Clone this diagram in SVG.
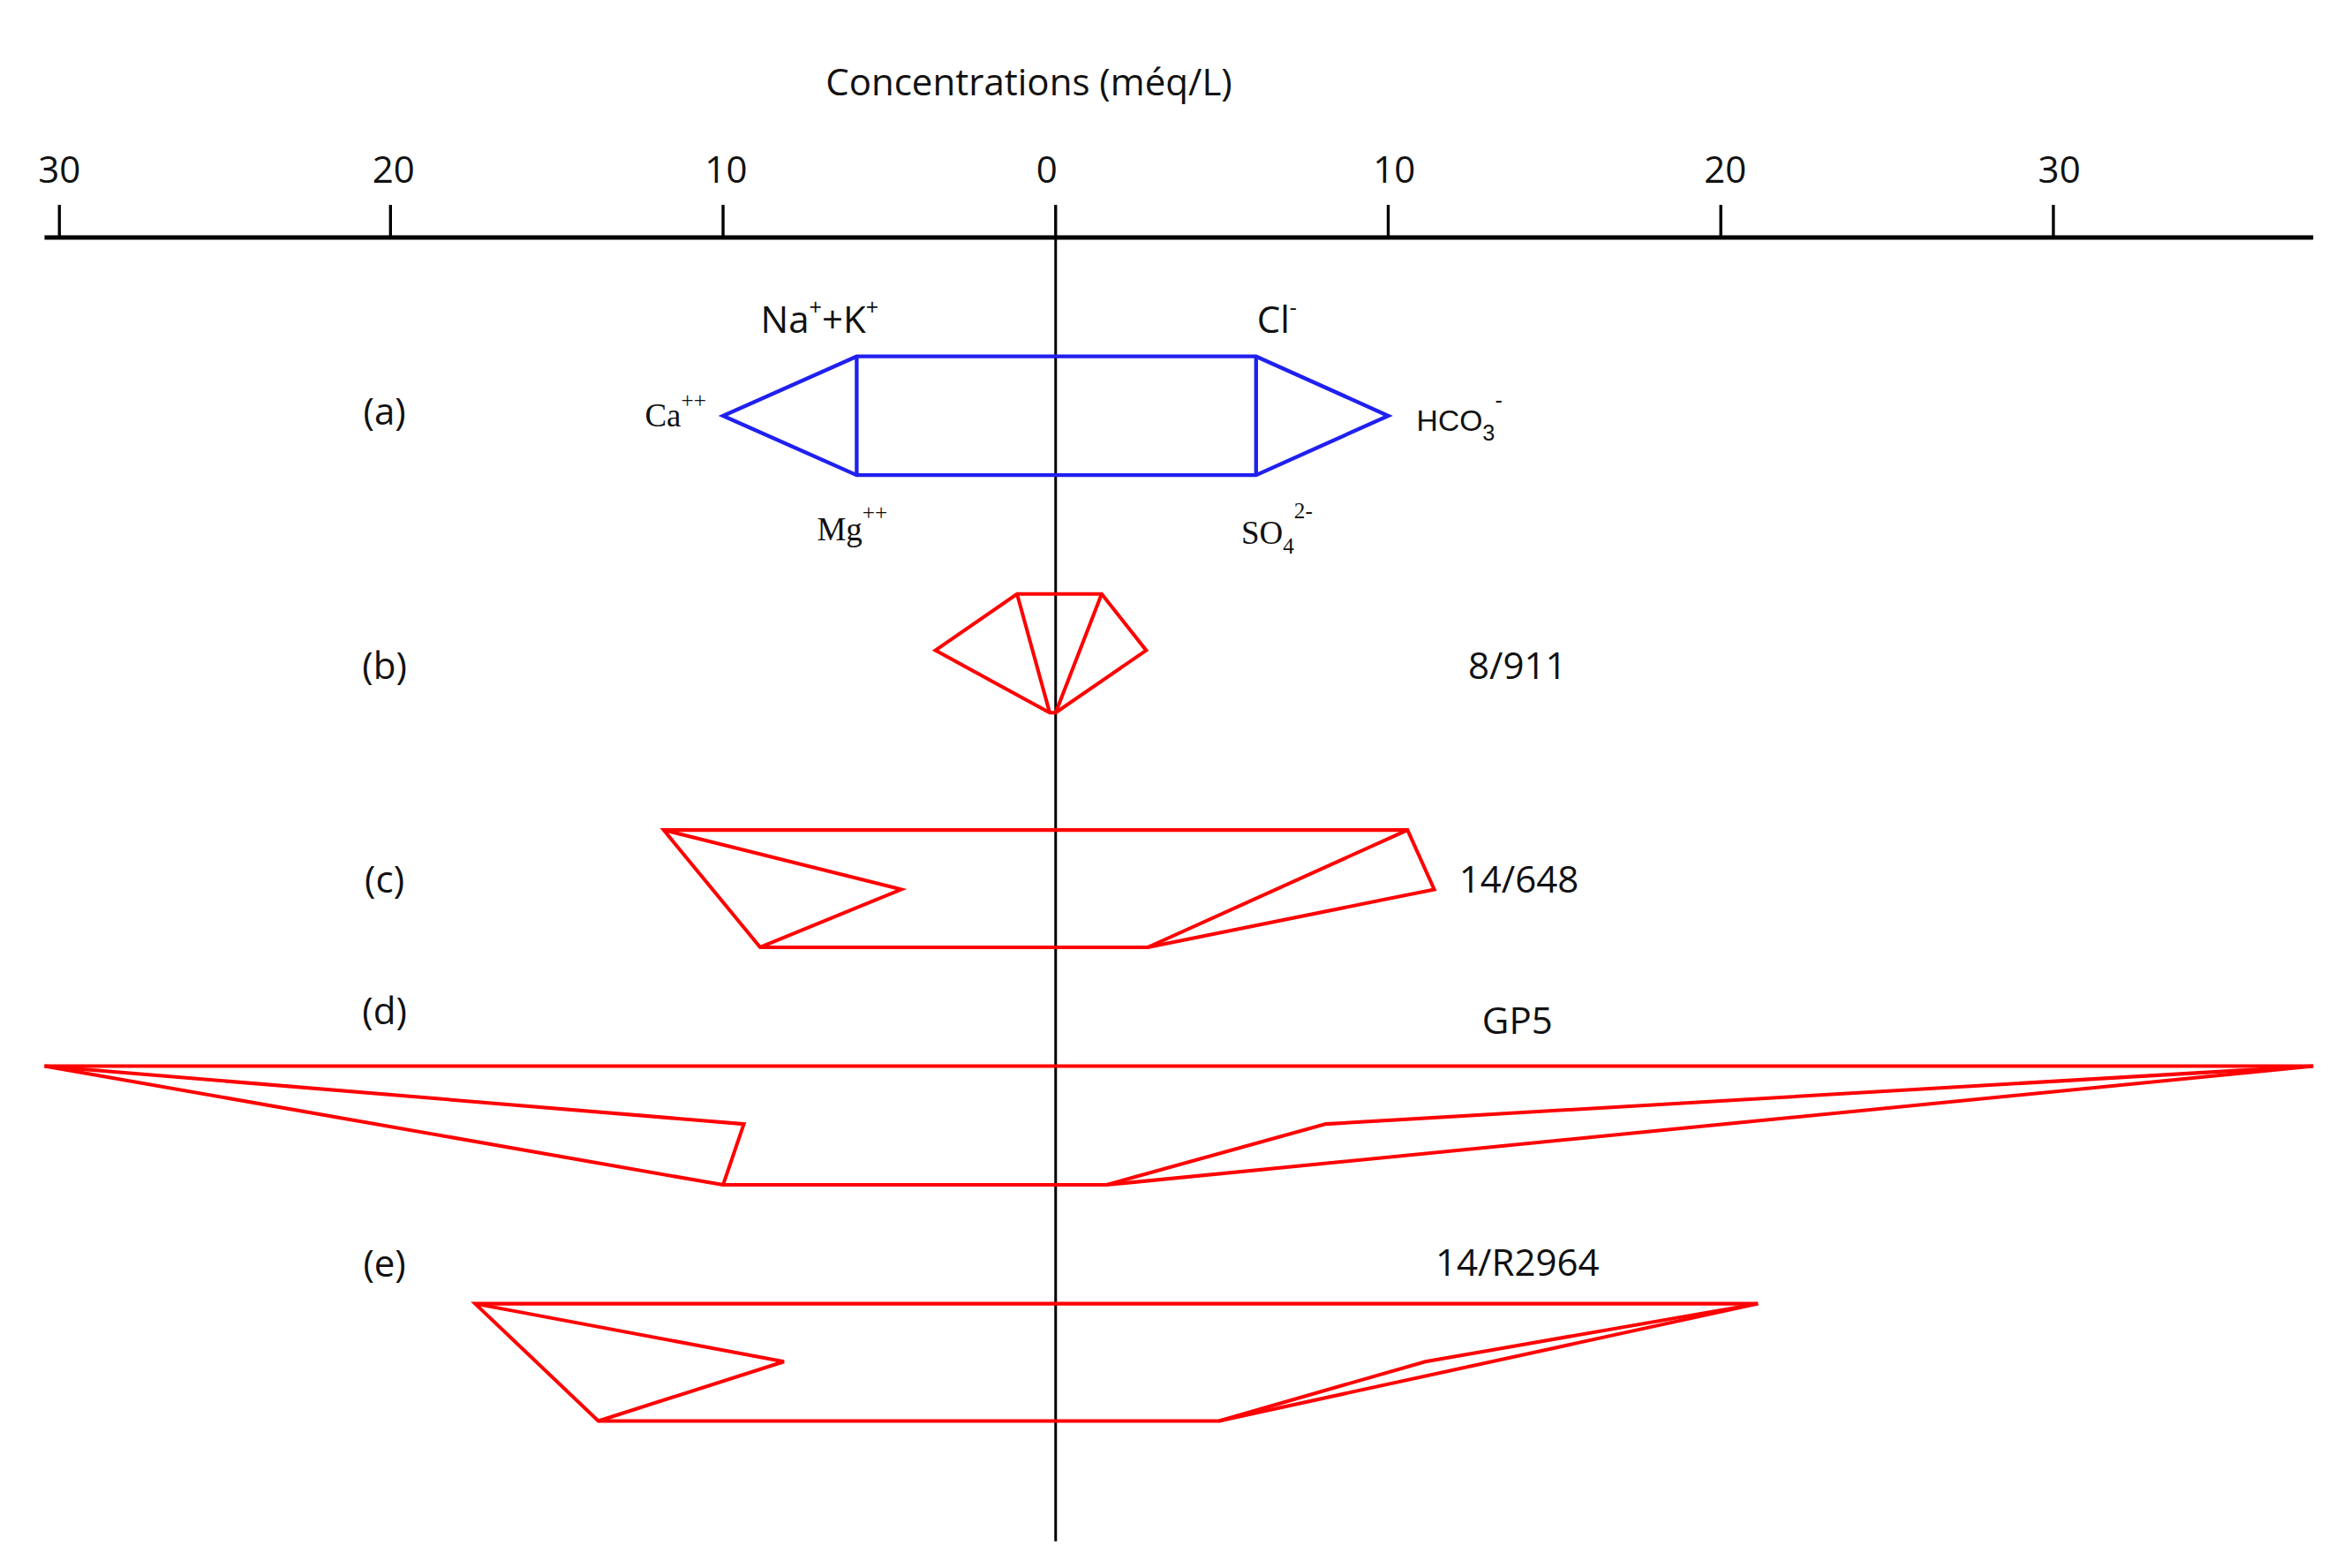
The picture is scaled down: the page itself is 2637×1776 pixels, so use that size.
<svg xmlns="http://www.w3.org/2000/svg" width="2637" height="1776" viewBox="0 0 2637 1776">
<style>
.t{font-family:"Open Sans","Liberation Sans",sans-serif;font-size:25px;fill:#111;text-anchor:middle}
.s{font-family:"Liberation Serif",serif;font-size:22px;fill:#111;text-anchor:middle}
.sup{font-size:15px}
.ax{stroke:#000;fill:none}
.r{stroke:#f00;stroke-width:2.4;fill:none;stroke-linejoin:miter}
.b{stroke:#2020f0;stroke-width:2.6;fill:none}
</style>
<rect width="2637" height="1776" fill="#fff"/>
<g transform="scale(1.6818)">
<g id="axis">
<text class="t" x="693" y="64">Concentrations (méq/L)</text>
<line class="ax" x1="30" y1="160" x2="1558" y2="160" stroke-width="3"/>
<g stroke-width="2" class="ax">
<line x1="40" y1="138" x2="40" y2="160"/><line x1="263" y1="138" x2="263" y2="160"/>
<line x1="487" y1="138" x2="487" y2="160"/><line x1="711" y1="138" x2="711" y2="160"/>
<line x1="935" y1="138" x2="935" y2="160"/><line x1="1159" y1="138" x2="1159" y2="160"/>
<line x1="1383" y1="138" x2="1383" y2="160"/>
</g>
<text class="t" x="40" y="123">30</text><text class="t" x="265" y="123">20</text>
<text class="t" x="489" y="123">10</text><text class="t" x="705" y="123">0</text>
<text class="t" x="939" y="123">10</text><text class="t" x="1162" y="123">20</text>
<text class="t" x="1387" y="123">30</text>
<line class="ax" x1="711" y1="160" x2="711" y2="1038" stroke-width="1.8"/>
</g>
<g id="a">
<text class="t" x="259" y="286">(a)</text>
<path class="b" d="M487,280 L577,240 L846,240 L935,280 L846,320 L577,320 Z"/>
<line class="b" x1="577" y1="240" x2="577" y2="320" stroke-width="1.5"/>
<line class="b" x1="846" y1="240" x2="846" y2="320" stroke-width="1.5"/>
<text class="t" x="552" y="224">Na<tspan class="sup" dy="-12">+</tspan><tspan dy="12">+K</tspan><tspan class="sup" dy="-12">+</tspan></text>
<text class="t" x="860" y="224">Cl<tspan class="sup" dy="-12">-</tspan></text>
<text class="s" x="455" y="287">Ca<tspan class="sup" dy="-12">++</tspan></text>
<text class="s" x="983" y="290" style="font-family:'Liberation Sans',sans-serif;font-size:20px">HCO<tspan class="sup" dy="7">3</tspan><tspan class="sup" dy="-22">-</tspan></text>
<text class="s" x="574" y="364">Mg<tspan class="sup" dy="-14">++</tspan></text>
<text class="s" x="860" y="366">SO<tspan class="sup" dy="7">4</tspan><tspan class="sup" dy="-24">2-</tspan></text>
</g>
<g id="b">
<text class="t" x="259" y="457">(b)</text>
<text class="t" x="1022" y="457">8/911</text>
<path class="r" d="M630,438 L685,400 L742,400 L772,438 L711,480 L707,480 Z"/>
<path class="r" d="M685,400 L707,480 M742,400 L711,480"/>
</g>
<g id="c">
<text class="t" x="259" y="601">(c)</text>
<text class="t" x="1023" y="601">14/648</text>
<path class="r" d="M447,559 L948,559 L966,599 L773,638 L512,638 Z"/>
<path class="r" d="M447,559 L607,599 L512,638 M948,559 L773,638"/>
</g>
<g id="d">
<text class="t" x="259" y="690">(d)</text>
<text class="t" x="1022" y="696">GP5</text>
<path class="r" d="M30,718 L1558,718 L745,798 L487,798 Z"/>
<path class="r" d="M30,718 L501,757 L487,798 M1558,718 L893,757 L745,798"/>
</g>
<g id="e">
<text class="t" x="259" y="860">(e)</text>
<text class="t" x="1022" y="859">14/R2964</text>
<path class="r" d="M320,878 L1184,878 L821,957 L403,957 Z"/>
<path class="r" d="M320,878 L528,917 L403,957 M1184,878 L960,917 L821,957"/>
</g>
</g>
</svg>
